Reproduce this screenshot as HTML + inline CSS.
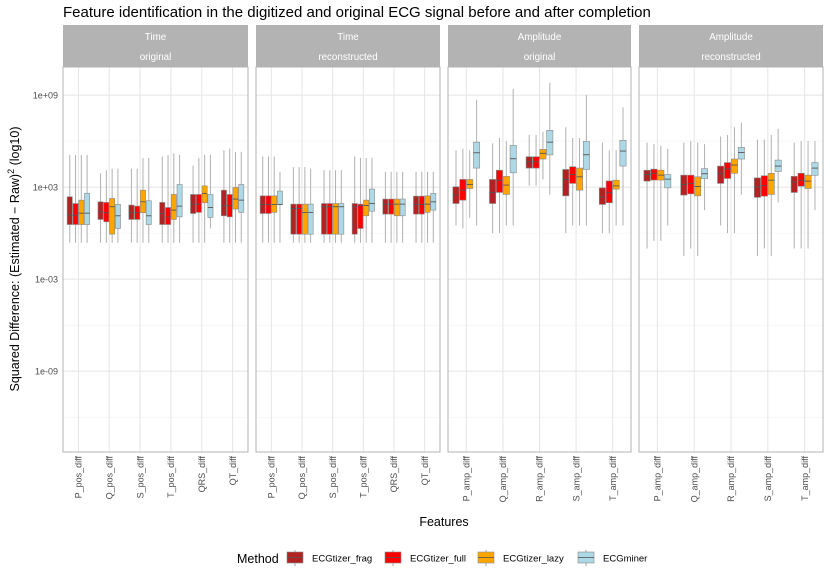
<!DOCTYPE html>
<html><head><meta charset="utf-8"><style>
body{margin:0;background:#fff;}
svg{display:block;font-family:"Liberation Sans",sans-serif;}
</style></head><body>
<svg id="c" width="830" height="581" viewBox="0 0 830 581"></svg>
<script>
// ---- data (log10 of squared difference): [lowWhisker, q1, median, q3, highWhisker]
const panelTitles = [["Time","original"],["Time","reconstructed"],["Amplitude","original"],["Amplitude","reconstructed"]];
const timeCats = ["P_pos_diff","Q_pos_diff","S_pos_diff","T_pos_diff","QRS_diff","QT_diff"];
const ampCats = ["P_amp_diff","Q_amp_diff","R_amp_diff","S_amp_diff","T_amp_diff"];
const methods = ["ECGtizer_frag","ECGtizer_full","ECGtizer_lazy","ECGminer"];
const yTickValues = [9,3,-3,-9];
const yTickLabels = ["1e+09","1e+03","1e-03","1e-09"];
// Time / original
const tOrigFrag = [[-0.63,0.56,1.17,2.37,5.1],[-0.63,0.89,1.39,2.04,3.9],[-0.63,0.89,1.33,1.83,4.2],[-0.63,0.56,1.28,2.0,5.0],[-0.63,1.28,1.89,2.52,4.4],[-0.63,1.13,1.78,2.8,5.4]];
const tOrigFull = [[-0.63,0.56,1.17,1.93,5.1],[-0.63,0.74,1.33,2.0,4.1],[-0.63,0.89,1.33,1.76,4.2],[-0.63,0.56,1.06,1.67,5.1],[-0.63,1.35,1.89,2.52,4.9],[-0.63,1.06,1.78,2.52,5.5]];
const tOrigLazy = [[-0.63,0.56,1.3,2.15,5.1],[-0.63,-0.07,1.72,2.26,4.2],[-0.63,1.33,2.04,2.8,4.9],[-0.63,0.89,1.5,2.52,5.2],[-0.63,1.98,2.59,3.08,5.1],[-0.63,1.57,2.22,2.98,5.3]];
const tOrigMiner = [[-0.63,0.56,1.3,2.6,5.1],[-0.63,0.3,1.13,1.87,4.2],[-0.63,0.56,1.13,2.11,4.9],[-0.63,1.06,1.76,3.17,5.1],[0.3,1.02,1.67,2.52,5.1],[-0.63,1.35,2.15,3.17,5.3]];
// Time / reconstructed
const tRecFrag = [[-0.63,1.28,1.87,2.43,5.0],[-0.63,-0.07,1.6,1.89,4.3],[-0.63,-0.07,1.72,1.93,4.1],[-0.63,-0.07,1.72,1.93,5.0],[-0.63,1.24,1.89,2.22,4.0],[-0.63,1.24,1.87,2.41,4.0]];
const tRecFull = [[-0.63,1.28,1.87,2.43,5.0],[-0.63,-0.07,1.6,1.89,4.3],[-0.63,-0.07,1.72,1.93,4.1],[-0.63,0.3,1.8,1.89,4.9],[-0.63,1.24,1.89,2.22,4.0],[-0.63,1.24,1.87,2.41,4.0]];
const tRecLazy = [[-0.63,1.35,1.87,2.43,5.0],[-0.63,-0.07,1.35,1.89,4.3],[-0.63,-0.07,1.72,1.93,4.1],[-0.63,1.13,1.8,2.15,4.9],[-0.63,1.13,1.89,2.22,4.0],[-0.63,1.35,1.89,2.43,4.0]];
const tRecMiner = [[-0.63,1.87,1.87,2.74,4.0],[-0.63,-0.07,1.35,1.89,4.2],[-0.63,-0.07,1.72,1.93,4.1],[-0.63,1.43,1.93,2.87,4.9],[-0.63,1.13,1.89,2.22,4.0],[-0.63,1.5,2.04,2.59,4.0]];
// Amplitude / original
const aOrigFrag = [[0.5,1.93,2.48,3.02,5.4],[0.0,1.93,2.65,3.5,5.85],[3.1,4.24,4.65,4.98,6.4],[0.0,2.43,3.5,4.15,6.9],[0.0,1.87,2.35,2.95,5.9]];
const aOrigFull = [[0.3,2.15,2.8,3.5,5.5],[0.0,2.65,3.45,4.1,6.2],[3.1,4.24,4.65,4.98,6.4],[0.5,3.24,3.82,4.33,6.2],[0.0,1.98,2.63,3.4,5.4]];
const aOrigLazy = [[1.0,2.91,3.17,3.5,5.4],[0.5,2.52,3.13,3.7,6.0],[3.5,4.83,5.2,5.46,6.6],[0.5,2.8,3.67,4.24,6.2],[0.5,2.87,3.08,3.45,5.4]];
const aOrigMiner = [[0.5,4.24,5.24,5.93,8.7],[0.5,3.93,4.85,5.72,9.4],[2.5,5.1,5.93,6.7,9.8],[0.5,4.15,5.11,5.98,9.0],[0.5,4.37,5.35,6.05,8.2]];
// Amplitude / reconstructed
const aRecFrag = [[-1.0,3.39,3.82,4.1,5.9],[-1.5,2.48,3.17,3.78,5.9],[0.5,3.24,3.87,4.37,6.3],[-1.5,2.33,3.02,3.6,6.1],[-1.0,2.65,3.33,3.7,5.9]];
const aRecFull = [[-0.5,3.46,3.9,4.17,5.8],[-1.0,2.56,3.24,3.78,6.0],[0.0,3.56,4.19,4.6,6.4],[-1.0,2.41,3.09,3.74,6.1],[-1.0,3.06,3.45,3.9,6.0]];
const aRecLazy = [[-0.5,3.46,3.78,4.1,5.7],[-1.5,2.43,3.04,3.67,5.9],[0.0,3.9,4.44,4.83,6.9],[-1.5,2.52,3.45,3.9,6.4],[-1.0,2.91,3.39,3.78,6.0]];
const aRecMiner = [[0.5,2.95,3.52,3.82,5.5],[1.5,3.56,3.87,4.2,5.8],[2.5,4.83,5.26,5.59,7.2],[2.0,4.02,4.37,4.76,6.8],[1.5,3.77,4.24,4.6,6.0]];

const panelData = [
  [tOrigFrag,tOrigFull,tOrigLazy,tOrigMiner],
  [tRecFrag,tRecFull,tRecLazy,tRecMiner],
  [aOrigFrag,aOrigFull,aOrigLazy,aOrigMiner],
  [aRecFrag,aRecFull,aRecLazy,aRecMiner]
];
const panelCats = [timeCats,timeCats,ampCats,ampCats];

// ---- layout
const colors = ["#b22222","#ff0000","#ffa500","#add8e6"];
const panelX = [[63,248],[256,440],[448,631],[639,823]];
const plotTop = 67, plotBot = 452, stripTop = 25;
const yMax = 10.83, yMin = -14.27;
function yScale(v){ return plotTop + (yMax - v) / (yMax - yMin) * (plotBot - plotTop); }

const NS = "http://www.w3.org/2000/svg";
const svg = document.getElementById("c");
function mk(tag, attrs, parent){
  const e = document.createElementNS(NS, tag);
  for (const k in attrs) e.setAttribute(k, attrs[k]);
  (parent || svg).appendChild(e);
  return e;
}

// title
let t = mk("text",{x:63,y:17,"font-size":15,fill:"#000"});


t.textContent = "Feature identification in the digitized and original ECG signal before and after completion";

// y-axis title
t = mk("text",{x:0,y:0,"font-size":12.5,fill:"#000","text-anchor":"middle",transform:"translate(19,259) rotate(-90)"});


t.innerHTML = 'Squared Difference: (Estimated \u2212 Raw)<tspan dy="-5" font-size="9">2</tspan><tspan dy="5"> (log10)</tspan>';

// y tick labels
yTickValues.forEach((v,i)=>{
  const l = mk("text",{x:58,y:yScale(v)+3.5,"font-size":9,fill:"#4d4d4d","text-anchor":"end"});
  
  
  l.textContent = yTickLabels[i];
});

panelData.forEach((series,p)=>{
  const [x0,x1] = panelX[p];
  const g = mk("g",{});
  
  
  const s = mk("rect",{x:x0,y:stripTop,width:x1-x0,height:plotTop-stripTop,fill:"#b3b3b3"},g);
  
  
  panelTitles[p].forEach((line,k)=>{
    const st = mk("text",{x:(x0+x1)/2,y:stripTop+15+k*20,"font-size":9.8,fill:"#fff","text-anchor":"middle"},g);
    
    
    st.textContent = line;
  });
  [6,0,-6,-12].forEach(v=>{
    mk("line",{x1:x0,x2:x1,y1:yScale(v),y2:yScale(v),stroke:"#f2f2f2","stroke-width":0.6},g);
  });
  yTickValues.forEach(v=>{
    mk("line",{x1:x0,x2:x1,y1:yScale(v),y2:yScale(v),stroke:"#e5e5e5","stroke-width":1},g);
  });
  const cats = panelCats[p];
  const band = (x1-x0)/cats.length;
  const catX = i => x0 + band*(i+0.5);
  cats.forEach((c,i)=>{
    mk("line",{x1:catX(i),x2:catX(i),y1:plotTop,y2:plotBot,stroke:"#e5e5e5","stroke-width":1},g);
    const lab = mk("text",{x:0,y:0,"font-size":9,fill:"#4d4d4d","text-anchor":"end",transform:`translate(${catX(i)+3.2},${plotBot+4}) rotate(-90)`},g);
    
    
    lab.textContent = c;
  });
  const dodge = band*0.75, bw = dodge/4;
  series.forEach((arr,m)=>{
    arr.forEach((st,i)=>{
      const cx = catX(i) - dodge/2 + bw*(m+0.5);
      const [lo,q1,md,q3,hi] = st;
      const w = mk("line",{x1:cx,x2:cx,y1:yScale(hi),y2:yScale(lo),stroke:"#b0b0b0","stroke-width":1},g);
      
      
      const b = mk("rect",{x:cx-bw/2+0.3,y:yScale(q3),width:bw-0.6,height:Math.max(0.5,yScale(q1)-yScale(q3)),fill:colors[m],stroke:"#8a8a8a","stroke-width":0.6},g);
      
      
      const ml = mk("line",{x1:cx-bw/2+0.3,x2:cx+bw/2-0.3,y1:yScale(md),y2:yScale(md),stroke:"#555","stroke-width":0.9},g);
      
      
    });
  });
  mk("rect",{x:x0,y:plotTop,width:x1-x0,height:plotBot-plotTop,fill:"none",stroke:"#b3b3b3","stroke-width":1},g);
});

// x-axis title
t = mk("text",{x:444,y:526,"font-size":12.5,fill:"#000","text-anchor":"middle"});


t.textContent = "Features";

// legend
const lg = mk("g",{});


t = mk("text",{x:237,y:563,"font-size":12.5,fill:"#000"},lg);


t.textContent = "Method";
const keyX = [287,385,478,578];
methods.forEach((m,i)=>{
  const e = mk("g",{},lg);
  
  
  mk("line",{x1:keyX[i]+8,x2:keyX[i]+8,y1:550,y2:566,stroke:"#a6a6a6"},e);
  mk("rect",{x:keyX[i],y:552,width:16,height:11,fill:colors[i],stroke:"#8a8a8a","stroke-width":0.6},e);
  mk("line",{x1:keyX[i],x2:keyX[i]+16,y1:557.5,y2:557.5,stroke:"#555","stroke-width":0.8},e);
  const tx = mk("text",{x:keyX[i]+25,y:561.5,"font-size":9.5,fill:"#000"},e);
  tx.textContent = m;
});
</script>
</body></html>
